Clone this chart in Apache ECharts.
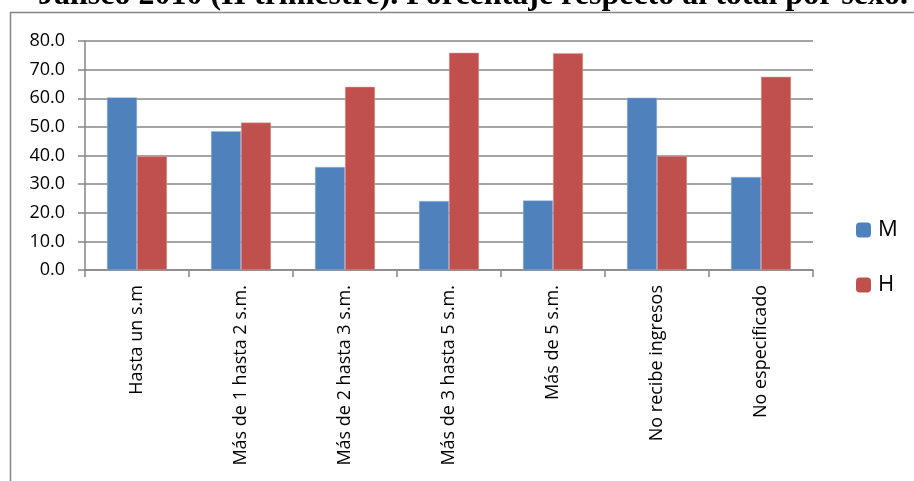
<!DOCTYPE html>
<html>
<head>
<meta charset="utf-8">
<script src="https://cdn.jsdelivr.net/npm/echarts@6/dist/echarts.min.js"></script>
<style>
html, body { margin: 0; padding: 0; background: #fff; }
#main { width: 914px; height: 481px; }
</style>
</head>
<body>
<div id="main"></div>
<script>
var categories = ['Hasta un s.m', 'Más de 1 hasta 2 s.m.', 'Más de 2 hasta 3 s.m.', 'Más de 3 hasta 5 s.m.',
    'Más de 5 s.m.', 'No recibe ingresos', 'No especificado'];
var valuesM = [60.3, 48.5, 36.0, 24.1, 24.3, 60.2, 32.5];
var valuesH = [39.7, 51.5, 64.0, 75.9, 75.7, 39.8, 67.5];
var seriesNames = ['M', 'H'];
var titleText = 'Jalisco 2010 (II trimestre). Porcentaje respecto al total por sexo.';

var axisGrey = '#868686';
var labelFont = '"Open Sans", "DejaVu Sans", sans-serif';

var myChart = echarts.init(document.getElementById('main'));
var option = {
    animation: false,
    title: {
        text: titleText,
        left: 468,
        textAlign: 'center',
        top: -25,
        textStyle: {
            fontFamily: '"Liberation Serif", serif',
            fontWeight: 'bold',
            fontSize: 32,
            color: '#000'
        }
    },
    graphic: [{
        type: 'rect',
        shape: { x: 10.5, y: 12.5, width: 920, height: 480 },
        style: { fill: 'none', stroke: '#868686', lineWidth: 1.5 },
        z: -1
    }],
    legend: {
        data: seriesNames,
        orient: 'vertical',
        left: 856,
        top: 219,
        padding: 0,
        itemWidth: 15,
        itemHeight: 15,
        itemGap: 33,
        itemStyle: { borderWidth: 0 },
        textStyle: { fontFamily: labelFont, fontSize: 22, lineHeight: 15, color: '#000', padding: [0, 0, 0, 2] }
    },
    grid: { left: 85, right: 101, top: 41, bottom: 211, containLabel: false },
    xAxis: {
        type: 'category',
        data: categories,
        axisLine: { lineStyle: { color: axisGrey, width: 1.5 } },
        axisTick: { show: true, length: 7, alignWithLabel: false, lineStyle: { color: axisGrey, width: 1.5 } },
        axisLabel: {
            rotate: 90,
            interval: 0,
            margin: 15,
            fontFamily: labelFont,
            fontSize: 18,
            color: '#000'
        }
    },
    yAxis: {
        type: 'value',
        min: 0,
        max: 80,
        interval: 10,
        axisLine: { show: true, lineStyle: { color: axisGrey, width: 1.5 } },
        axisTick: { show: true, length: 7, lineStyle: { color: axisGrey, width: 1.5 } },
        splitLine: { lineStyle: { color: axisGrey, width: 1.5 } },
        axisLabel: {
            margin: 20,
            fontFamily: labelFont,
            fontSize: 18,
            color: '#000',
            formatter: function (v) { return v.toFixed(1); }
        }
    },
    series: [{
        name: 'M',
        type: 'bar',
        data: valuesM,
        barWidth: 30,
        barGap: '0%',
        itemStyle: { color: '#4F81BD', borderColor: '#9bb7dd', borderWidth: 0.5 }
    }, {
        name: 'H',
        type: 'bar',
        data: valuesH,
        barWidth: 30,
        barGap: '0%',
        itemStyle: { color: '#C0504D', borderColor: '#e3a5a3', borderWidth: 0.5 }
    }]
};
myChart.setOption(option);
</script>
</body>
</html>
